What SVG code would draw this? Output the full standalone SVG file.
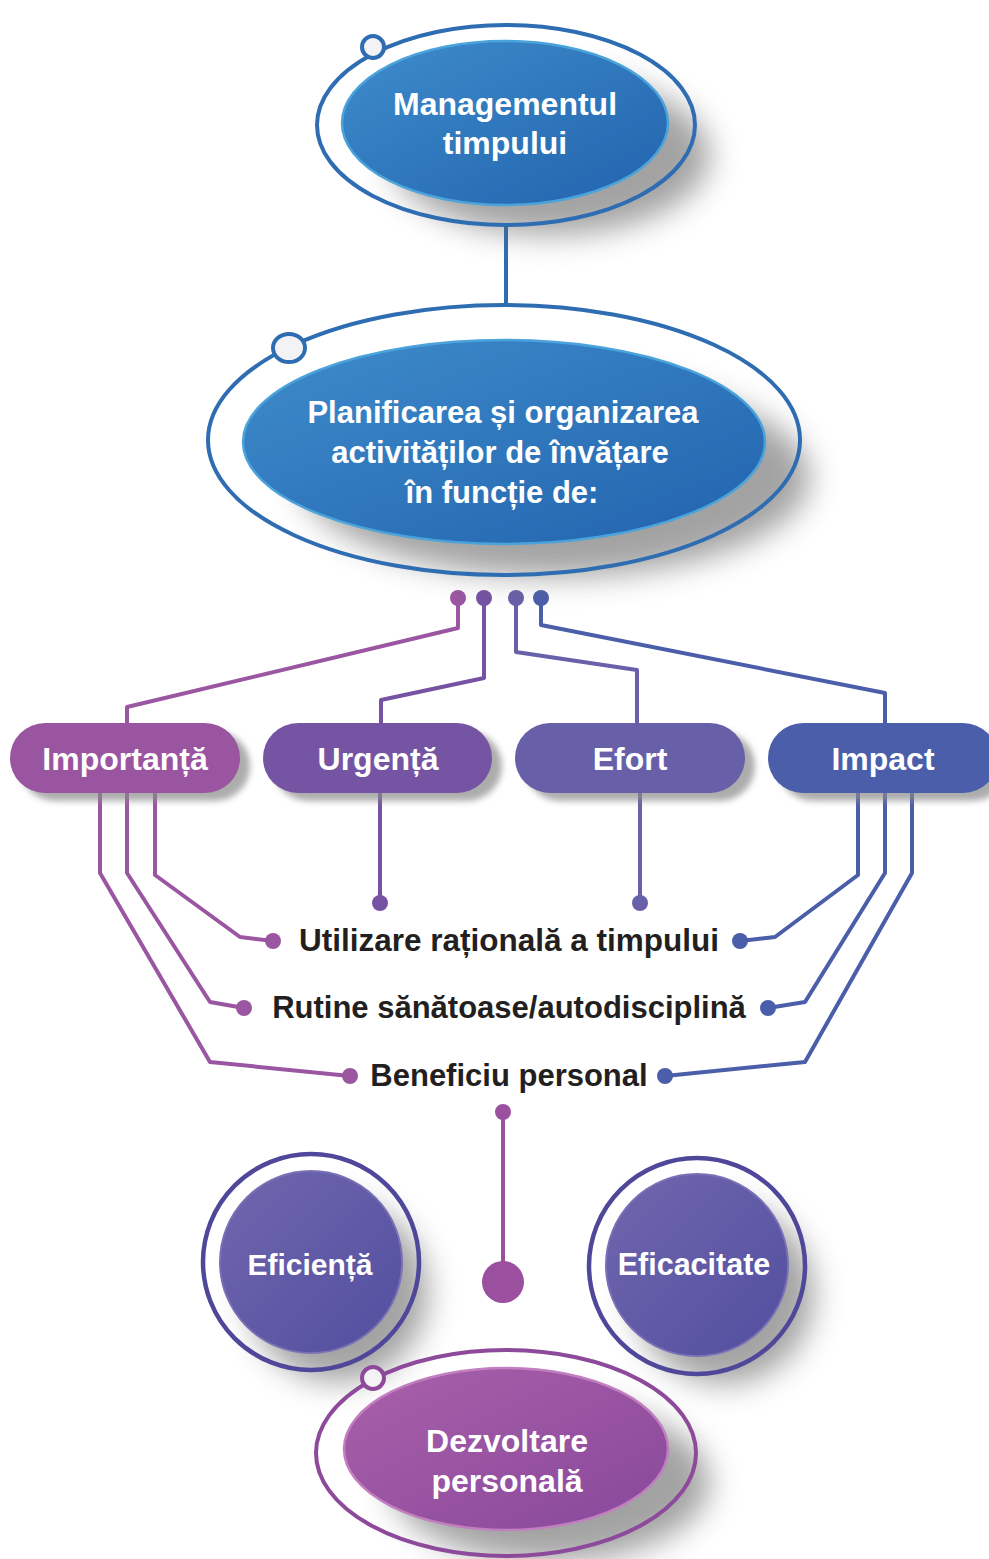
<svg xmlns="http://www.w3.org/2000/svg" width="989" height="1559" viewBox="0 0 989 1559">
  <defs>
    <linearGradient id="gBlue" x1="0" y1="0" x2="1" y2="1">
      <stop offset="0" stop-color="#3e8ccb"/>
      <stop offset="1" stop-color="#2263ae"/>
    </linearGradient>
    <linearGradient id="gViolet" x1="0" y1="0" x2="1" y2="1">
      <stop offset="0" stop-color="#7066ae"/>
      <stop offset="1" stop-color="#524f9f"/>
    </linearGradient>
    <linearGradient id="gPink" x1="0" y1="0" x2="1" y2="1">
      <stop offset="0" stop-color="#a960a9"/>
      <stop offset="1" stop-color="#88489b"/>
    </linearGradient>
    <filter id="soft" x="-50%" y="-50%" width="200%" height="200%">
      <feGaussianBlur stdDeviation="15"/>
    </filter>
    <filter id="softSmall" x="-20%" y="-50%" width="140%" height="200%">
      <feGaussianBlur stdDeviation="3"/>
    </filter>
    <style>
      .lbl { font-family: "Liberation Sans", Arial, sans-serif; font-weight: 700; text-anchor: middle; dominant-baseline: central; }
      .white { fill: #ffffff; }
      .dark { fill: #231f20; }
      .ringBlue { fill: none; stroke: #2f6db3; stroke-width: 4; }
      .ringViolet { fill: none; stroke: #4f4799; stroke-width: 4.5; }
      .ringPink { fill: none; stroke: #8d4a9b; stroke-width: 4; }
      .shadow { fill: #666666; opacity: 0.6; }
      .pillShadow { fill: #8a8a8a; opacity: 0.7; }
      .wire { fill: none; stroke-width: 4; stroke-linejoin: round; stroke-linecap: round; }
    </style>
  </defs>

  <rect width="989" height="1559" fill="#ffffff"/>

  <!-- connectors -->
  <g id="connectors">
    <line x1="506" y1="225" x2="506" y2="305" stroke="#2f6db3" stroke-width="4"/>

    <!-- fan-out from the planning node to the four criteria -->
    <path class="wire" stroke="#9b56a2" d="M458 598 V628 L127 707 V725"/>
    <path class="wire" stroke="#7652a2" d="M484 598 V678 L381 700 V725"/>
    <path class="wire" stroke="#6860a8" d="M516 598 V652 L637 670 V725"/>
    <path class="wire" stroke="#4a5ea9" d="M541 598 V625 L885 693 V725"/>
    <circle cx="458" cy="598" r="8" fill="#9b56a2"/>
    <circle cx="484" cy="598" r="8" fill="#7652a2"/>
    <circle cx="516" cy="598" r="8" fill="#6860a8"/>
    <circle cx="541" cy="598" r="8" fill="#4a5ea9"/>

    <!-- Importanță to the three outcomes -->
    <path class="wire" stroke="#9b56a2" d="M155 790 V875 L240 937 L273 941"/>
    <path class="wire" stroke="#9b56a2" d="M127 790 V873 L210 1002 L244 1008"/>
    <path class="wire" stroke="#9b56a2" d="M100 790 V873 L210 1062 L350 1076"/>
    <circle cx="273" cy="941" r="8" fill="#9b56a2"/>
    <circle cx="244" cy="1008" r="8" fill="#9b56a2"/>
    <circle cx="350" cy="1076" r="8" fill="#9b56a2"/>

    <!-- Urgență and Efort -->
    <path class="wire" stroke="#7652a2" d="M380 790 V903"/>
    <circle cx="380" cy="903" r="8" fill="#7652a2"/>
    <path class="wire" stroke="#6860a8" d="M640 790 V903"/>
    <circle cx="640" cy="903" r="8" fill="#6860a8"/>

    <!-- Impact to the three outcomes -->
    <path class="wire" stroke="#4a5ea9" d="M858 790 V875 L775 937 L740 941"/>
    <path class="wire" stroke="#4a5ea9" d="M885 790 V873 L805 1002 L768 1008"/>
    <path class="wire" stroke="#4a5ea9" d="M912 790 V873 L805 1062 L665 1076"/>
    <circle cx="740" cy="941" r="8" fill="#4a5ea9"/>
    <circle cx="768" cy="1008" r="8" fill="#4a5ea9"/>
    <circle cx="665" cy="1076" r="8" fill="#4a5ea9"/>

    <!-- stem down to the centre point -->
    <path class="wire" stroke="#9a4f9f" d="M503 1112 V1270"/>
    <circle cx="503" cy="1112" r="8" fill="#9a4f9f"/>
    <circle cx="503" cy="1282" r="21" fill="#9a4f9f"/>
  </g>

  <!-- top node -->
  <g id="node-management">
    <ellipse class="shadow" cx="550" cy="155" rx="160" ry="80" filter="url(#soft)"/>
    <ellipse class="ringBlue" cx="506" cy="125" rx="189" ry="100"/>
    <ellipse cx="505" cy="123" rx="163" ry="82" fill="url(#gBlue)" stroke="#4ba3dc" stroke-width="2.5"/>
    <circle cx="373" cy="47" r="11" fill="#f3f3f6" stroke="#2f6db3" stroke-width="4"/>
    <text class="lbl white" x="505" y="104" font-size="32">Managementul</text>
    <text class="lbl white" x="505" y="143" font-size="32">timpului</text>
  </g>

  <!-- planning node -->
  <g id="node-planning">
    <ellipse class="shadow" cx="555" cy="477" rx="255" ry="100" filter="url(#soft)"/>
    <ellipse class="ringBlue" cx="504" cy="440" rx="296" ry="135"/>
    <ellipse cx="504" cy="442" rx="261" ry="102" fill="url(#gBlue)" stroke="#4ba3dc" stroke-width="2.5"/>
    <ellipse cx="289" cy="348" rx="16" ry="14" fill="#f3f3f6" stroke="#2f6db3" stroke-width="4"/>
    <text class="lbl white" x="503" y="412" font-size="31">Planificarea și organizarea</text>
    <text class="lbl white" x="500" y="452" font-size="31">activităților de învățare</text>
    <text class="lbl white" x="502" y="492" font-size="31">în funcție de:</text>
  </g>

  <!-- criteria pills -->
  <g id="node-importanta">
    <rect class="pillShadow" x="20" y="731" width="230" height="70" rx="35" filter="url(#softSmall)"/>
    <rect x="10" y="723" width="230" height="70" rx="35" fill="#9a55a1"/>
    <text class="lbl white" x="125" y="759" font-size="32">Importanță</text>
  </g>
  <g id="node-urgenta">
    <rect class="pillShadow" x="273" y="731" width="229" height="70" rx="35" filter="url(#softSmall)"/>
    <rect x="263" y="723" width="229" height="70" rx="35" fill="#7555a3"/>
    <text class="lbl white" x="378" y="759" font-size="32">Urgență</text>
  </g>
  <g id="node-efort">
    <rect class="pillShadow" x="525" y="731" width="230" height="70" rx="35" filter="url(#softSmall)"/>
    <rect x="515" y="723" width="230" height="70" rx="35" fill="#675fa8"/>
    <text class="lbl white" x="630" y="759" font-size="32">Efort</text>
  </g>
  <g id="node-impact">
    <rect class="pillShadow" x="778" y="731" width="230" height="70" rx="35" filter="url(#softSmall)"/>
    <rect x="768" y="723" width="230" height="70" rx="35" fill="#4a5eaa"/>
    <text class="lbl white" x="883" y="759" font-size="32">Impact</text>
  </g>

  <!-- outcomes -->
  <g id="node-utilizare">
    <text class="lbl dark" x="509" y="940" font-size="31.5">Utilizare rațională a timpului</text>
  </g>
  <g id="node-rutine">
    <text class="lbl dark" x="509" y="1007" font-size="31">Rutine sănătoase/autodisciplină</text>
  </g>
  <g id="node-beneficiu">
    <text class="lbl dark" x="509" y="1075" font-size="31">Beneficiu personal</text>
  </g>

  <!-- result circles -->
  <g id="node-eficienta">
    <circle class="shadow" cx="338" cy="1292" r="90" filter="url(#soft)"/>
    <circle class="ringViolet" cx="311" cy="1262" r="108"/>
    <circle cx="311" cy="1262" r="91" fill="url(#gViolet)" stroke="#7a70b5" stroke-width="2"/>
    <text class="lbl white" x="310" y="1264" font-size="30">Eficiență</text>
  </g>
  <g id="node-eficacitate">
    <circle class="shadow" cx="724" cy="1294" r="90" filter="url(#soft)"/>
    <circle class="ringViolet" cx="697" cy="1266" r="108"/>
    <circle cx="697" cy="1265" r="91" fill="url(#gViolet)" stroke="#7a70b5" stroke-width="2"/>
    <text class="lbl white" x="694" y="1264" font-size="30.5">Eficacitate</text>
  </g>

  <!-- bottom node -->
  <g id="node-dezvoltare">
    <ellipse class="shadow" cx="550" cy="1482" rx="160" ry="80" filter="url(#soft)"/>
    <ellipse class="ringPink" cx="506" cy="1453" rx="190" ry="103"/>
    <ellipse cx="506" cy="1449" rx="162" ry="81" fill="url(#gPink)" stroke="#c27fc0" stroke-width="2.5"/>
    <circle cx="373" cy="1378" r="11" fill="#f3f3f6" stroke="#8d4a9b" stroke-width="4"/>
    <text class="lbl white" x="507" y="1441" font-size="32">Dezvoltare</text>
    <text class="lbl white" x="507" y="1481" font-size="32">personală</text>
  </g>
</svg>
